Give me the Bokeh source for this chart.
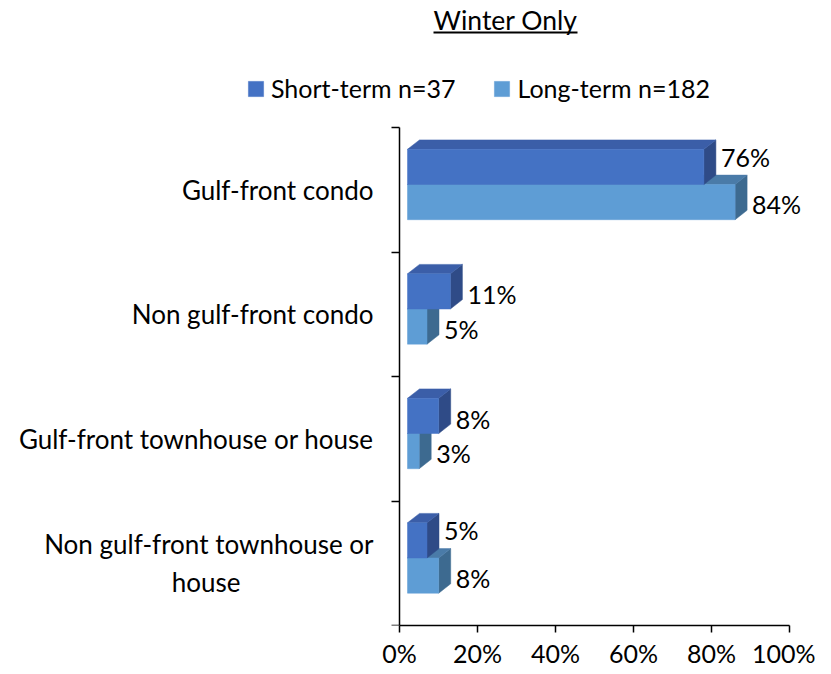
from bokeh.plotting import figure
from bokeh.models import FixedTicker, Legend, LegendItem, Range1d
from bokeh.embed import file_html
from bokeh.resources import INLINE
from bokeh.core.properties import value

# ---------------- data ----------------
categories = ["Gulf-front condo", "Non gulf-front condo",
              "Gulf-front townhouse or house", "Non gulf-front townhouse or\nhouse"]
short_term = [76, 11, 8, 5]
long_term = [84, 5, 3, 8]
series_names = ["Short-term n=37", "Long-term n=182"]
x_ticks = [0, 20, 40, 60, 80, 100]
x_tick_labels = ["0%", "20%", "40%", "60%", "80%", "100%"]
title_text = "Winter Only"

# ---------------- layout constants (pixels) ----------------
W, H = 815, 670
FB = 45                     # bottom border for the x axis
FRAME_H = H - FB
AX_X = 399                  # pixel column of the value axis (0%)
PX_X = 3.9                  # px per percent
PX_Y = 124.5                # px per category band
FONT = "Lato"
FS = "25px"

def dx(px):
    return px / PX_X

def dy(px):
    return px / PX_Y

def img_x(x):   # canvas pixel -> data
    return (x - AX_X) / PX_X

def img_y(y):
    return (FRAME_H - y) / PX_Y

SHIFT = dx(8)        # front face offset from axis
DDX = dx(12)         # 3d depth
DDY = dy(9.4)
TOP_GAP = dy(21.8)
BAR_H = dy(35.2)

colors = {
    "short": ("#4472C4", "#3B5EA8", "#2F4B87"),
    "long": ("#5E9DD5", "#4A7BA8", "#3D6A90"),
}

p = figure(width=W, height=H, output_backend="svg", toolbar_location=None,
           x_range=Range1d(img_x(0), img_x(W)), y_range=Range1d(0, FRAME_H / PX_Y),
           min_border_left=0, min_border_right=0, min_border_top=0,
           min_border_bottom=FB, title=None)
p.outline_line_color = None
p.xgrid.visible = False
p.ygrid.visible = False
p.background_fill_color = "white"

n = len(categories)


def bar_geometry(values, slot):
    lefts, rights, bottoms, tops = [], [], [], []
    top_xs, top_ys, side_xs, side_ys = [], [], [], []
    for i, v in enumerate(values):
        band_top = n - i
        y1 = band_top - TOP_GAP - slot * BAR_H
        y0 = y1 - BAR_H
        x0 = SHIFT
        x1 = SHIFT + v
        lefts.append(x0); rights.append(x1); bottoms.append(y0); tops.append(y1)
        top_xs.append([x0, x1, x1 + DDX, x0 + DDX])
        top_ys.append([y1, y1, y1 + DDY, y1 + DDY])
        side_xs.append([x1, x1, x1 + DDX, x1 + DDX])
        side_ys.append([y0, y1, y1 + DDY, y0 + DDY])
    return lefts, rights, bottoms, tops, top_xs, top_ys, side_xs, side_ys


renderers = {}
for key, values, slot in [("long", long_term, 1), ("short", short_term, 0)]:
    front_c, top_c, side_c = colors[key]
    l, r, b, t, txs, tys, sxs, sys_ = bar_geometry(values, slot)
    p.patches(xs=sxs, ys=sys_, fill_color=side_c, line_color=side_c, line_width=0.5)
    p.patches(xs=txs, ys=tys, fill_color=top_c, line_color=top_c, line_width=0.5)
    renderers[key] = p.quad(left=l, right=r, bottom=b, top=t,
                            fill_color=front_c, line_color=front_c, line_width=0.5)

# value labels
lab_x, lab_y, lab_t = [], [], []
for i in range(n):
    band_top = n - i
    s, lg = short_term[i], long_term[i]
    s_center = band_top - TOP_GAP - BAR_H / 2
    l_center = s_center - BAR_H
    s_off = -10 if lg > s else 3
    lab_x.append(SHIFT + s + DDX + dx(5)); lab_y.append(s_center - dy(s_off)); lab_t.append(f"{s}%")
    lab_x.append(SHIFT + lg + DDX + dx(5)); lab_y.append(l_center - dy(2)); lab_t.append(f"{lg}%")
p.text(x=lab_x, y=lab_y, text=lab_t, text_font=value(FONT), text_font_size=FS,
       text_color="black", text_align="left", text_baseline="middle")

# title with underline
p.text(x=[img_x(505)], y=[img_y(19)], text=[title_text], text_font=value(FONT),
       text_font_size="26.5px", text_color="black", text_align="center", text_baseline="middle")
p.segment(x0=[img_x(433)], x1=[img_x(577)], y0=[img_y(32)], y1=[img_y(32)],
          line_color="black", line_width=2)


def centred_block(label):
    # right-aligned block whose lines are centred under the longest one
    lines = label.split("\n")
    if len(lines) == 1:
        return label
    out = [lines[0]]
    for ln in lines[1:]:
        pad = int(round((len(lines[0]) - len(ln)) * 0.9))
        out.append(ln + "\u00a0" * pad)
    return "\n".join(out)


# axes
xa = p.xaxis[0]
xa.ticker = FixedTicker(ticks=x_ticks)
xa.major_label_overrides = {t: lab for t, lab in zip(x_ticks, x_tick_labels)}
xa.bounds = (0, 100)
xa.major_tick_out = 7
xa.major_tick_in = 0
xa.minor_tick_line_color = None
xa.axis_line_color = "black"
xa.axis_line_width = 1.5
xa.major_tick_line_width = 1.5
xa.major_label_text_font = FONT
xa.major_label_text_font_size = FS
xa.major_label_text_color = "black"
xa.major_label_standoff = 5

ya = p.yaxis[0]
ya.fixed_location = 0
centers = [n - i - 0.5 for i in range(n)]
ya.ticker = FixedTicker(ticks=centers, minor_ticks=list(range(n + 1)))
ya.major_label_overrides = {c: centred_block(cat) for c, cat in zip(centers, categories)}
ya.bounds = (0, n)
ya.major_tick_line_color = None
ya.major_tick_out = 0
ya.major_tick_in = 0
ya.minor_tick_out = 8
ya.minor_tick_in = 0
ya.minor_tick_line_color = "black"
ya.minor_tick_line_width = 1.5
ya.axis_line_color = "black"
ya.axis_line_width = 1.5
ya.major_label_text_font = FONT
ya.major_label_text_font_size = "26px"
ya.major_label_text_color = "black"
ya.major_label_standoff = 18

legend = Legend(items=[LegendItem(label=series_names[0], renderers=[renderers["short"]]),
                       LegendItem(label=series_names[1], renderers=[renderers["long"]])],
                orientation="horizontal", location=(246, FRAME_H - 103),
                glyph_width=19, glyph_height=19, label_standoff=6, spacing=37,
                padding=0, margin=0, border_line_color=None, background_fill_alpha=0,
                label_text_font=FONT, label_text_font_size=FS, label_text_color="black")
p.add_layout(legend)

open("out.html", "w").write(file_html(p, INLINE))
